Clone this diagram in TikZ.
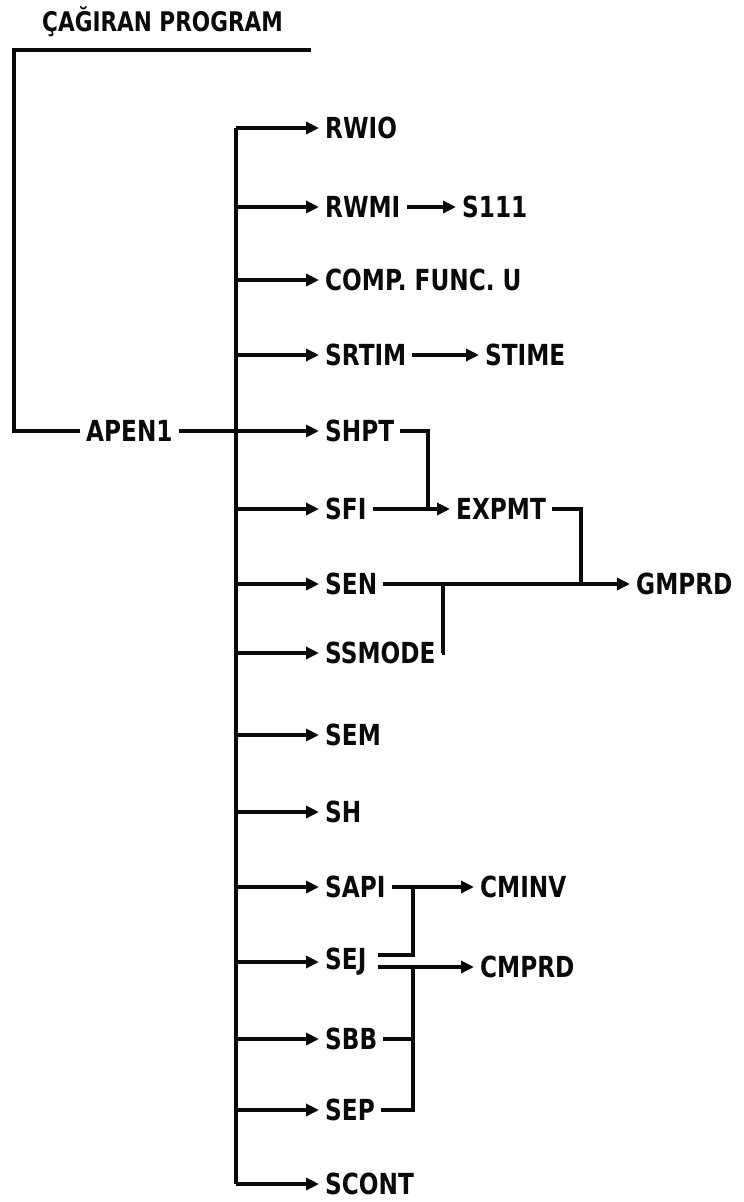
\documentclass[tikz,border=0pt]{standalone}
\usepackage{fontspec}
\setmainfont{DejaVu Sans}[FakeStretch=0.8]
\usetikzlibrary{arrows.meta,calc}
\definecolor{cpink}{HTML}{0A0A0A}
\definecolor{cppage}{HTML}{FFFFFF}
\tikzset{
  cpname/.style={
    anchor=west,
    inner xsep=6pt,
    inner ysep=2pt,
    font=\fontsize{29}{32}\selectfont\bfseries,
    text=cpink
  },
  cpline/.style={
    line width=3.8pt,
    color=cpink
  },
  cpcall/.style={
    cpline,
    -{Triangle[length=13pt,width=12pt]}
  }
}

\begin{document}
\begin{tikzpicture}[x=1pt,y=-1pt]
  \useasboundingbox[fill=cppage] (0,0) rectangle (744,1202);

  \node[cpname, font=\fontsize{27}{30}\selectfont\bfseries] (caller) at (36,22) {ÇAĞIRAN PROGRAM};
  \node[cpname] (apen1) at (80,431) {APEN1};

  % subroutines called from APEN1
  \node[cpname] (rwio)   at (319,128)  {RWIO};
  \node[cpname] (rwmi)   at (319,207)  {RWMI};
  \node[cpname] (comp)   at (319,280)  {COMP. FUNC. U};
  \node[cpname] (srtim)  at (319,355)  {SRTIM};
  \node[cpname] (shpt)   at (319,431)  {SHPT};
  \node[cpname] (sfi)    at (319,509)  {SFI};
  \node[cpname] (sen)    at (319,584)  {SEN};
  \node[cpname] (ssmode) at (319,653)  {SSMODE};
  \node[cpname] (sem)    at (319,735)  {SEM};
  \node[cpname] (sh)     at (319,812)  {SH};
  \node[cpname] (sapi)   at (319,887)  {SAPI};
  \node[cpname] (sej)    at (319,962)  {SEJ};
  \node[cpname] (sbb)    at (319,1039) {SBB};
  \node[cpname] (sep)    at (319,1110) {SEP};
  \node[cpname] (scont)  at (319,1184) {SCONT};

  % second level
  \node[cpname] (s111)  at (456,207) {S111};
  \node[cpname] (stime) at (479,355) {STIME};
  \node[cpname] (expmt) at (450,509) {EXPMT};
  \node[cpname] (gmprd) at (630,584) {GMPRD};
  \node[cpname] (cminv) at (474,887) {CMINV};
  \node[cpname] (cmprd) at (474,967) {CMPRD};

  \coordinate (topleft) at (14,50);
  \coordinate (topright) at (311,50);
  \coordinate (spine) at (236,0);
  \coordinate (jexp) at (428,509);
  \coordinate (jgm) at (581,584);
  \coordinate (jss) at (443,584);
  \coordinate (jcm) at (413,887);
  \coordinate (jcp) at (413,967);

  \draw[cpline] (topright) -- (topleft) |- (apen1.west);
  \draw[cpcall] (apen1.east) -- (shpt.west);
  \draw[cpline] (spine |- rwio.west) -- (spine |- scont.west);

  \draw[cpcall] (spine |- rwio.west) -- (rwio.west);
  \draw[cpcall] (spine |- rwmi.west) -- (rwmi.west);
  \draw[cpcall] (spine |- comp.west) -- (comp.west);
  \draw[cpcall] (spine |- srtim.west) -- (srtim.west);
  \draw[cpcall] (spine |- sfi.west) -- (sfi.west);
  \draw[cpcall] (spine |- sen.west) -- (sen.west);
  \draw[cpcall] (spine |- ssmode.west) -- (ssmode.west);
  \draw[cpcall] (spine |- sem.west) -- (sem.west);
  \draw[cpcall] (spine |- sh.west) -- (sh.west);
  \draw[cpcall] (spine |- sapi.west) -- (sapi.west);
  \draw[cpcall] (spine |- sej.west) -- (sej.west);
  \draw[cpcall] (spine |- sbb.west) -- (sbb.west);
  \draw[cpcall] (spine |- sep.west) -- (sep.west);
  \draw[cpcall] (spine |- scont.west) -- (scont.west);

  \draw[cpcall] (rwmi.east) -- (s111.west);
  \draw[cpcall] (srtim.east) -- (stime.west);

  \draw[cpcall] (sfi.east) -- (expmt.west);
  \draw[cpline] (shpt.east) -| (jexp);

  \draw[cpcall] (sen.east) -- (gmprd.west);
  \draw[cpline] (expmt.east) -| (jgm);
  \draw[cpline] (ssmode.east) -| (jss);

  \draw[cpcall] (sapi.east) -- (cminv.west);
  \draw[cpline] ([xshift=5pt,yshift=7pt]sej.east) -| (jcm);
  \draw[cpcall] ([xshift=5pt,yshift=-5pt]sej.east) -- (cmprd.west);
  \draw[cpline] (sbb.east) -| (jcp);
  \draw[cpline] (sep.east) -| (jcp);
\end{tikzpicture}
\end{document}
